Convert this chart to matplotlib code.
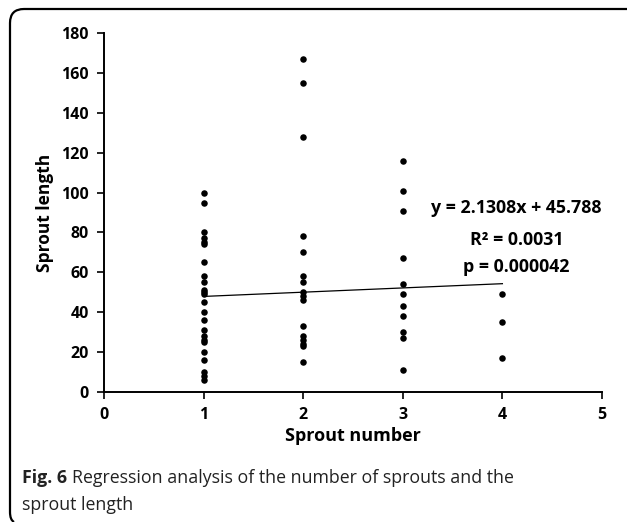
import matplotlib
matplotlib.use("Agg")
import matplotlib.pyplot as plt
from matplotlib.path import Path
from matplotlib.patches import PathPatch

# sprout lengths, grouped by sprout number
len_1 = [100, 95, 80, 77, 75, 74, 65, 58, 55, 51, 50, 49, 45, 40, 36, 31, 28, 26, 25, 20, 16, 10, 8, 6]
len_2 = [167, 155, 128, 78, 70, 58, 55, 50, 48, 46, 33, 28, 26, 24, 23, 15]
len_3 = [116, 101, 91, 67, 54, 49, 43, 38, 30, 27, 11]
len_4 = [49, 35, 17]

slope = 2.1308
intercept = 45.788
fit_x = [1, 4]

x_ticks = [0, 1, 2, 3, 4, 5]
y_ticks = [0, 20, 40, 60, 80, 100, 120, 140, 160, 180]

plt.rcParams['font.family'] = ['Open Sans', 'DejaVu Sans']

fig = plt.figure(figsize=(6.29, 5.22), dpi=100)
ax = fig.add_axes([104/629, 1 - 392/522, (602-104)/629, (392-33)/522])

xs = []
ys = []
for n, vals in zip([1, 2, 3, 4], [len_1, len_2, len_3, len_4]):
    xs += [n] * len(vals)
    ys += vals
ax.scatter(xs, ys, s=22, color='black', zorder=3, linewidths=0)

ax.plot(fit_x, [slope * v + intercept for v in fit_x], color='black', lw=0.9)

ax.set_xlim(0, 5)
ax.set_ylim(0, 180)
ax.set_xticks(x_ticks)
ax.set_yticks(y_ticks)
for s in ['top', 'right']:
    ax.spines[s].set_visible(False)
for s in ['left', 'bottom']:
    ax.spines[s].set_linewidth(1.4)
ax.tick_params(direction='out', length=5, width=1.2, labelsize=11.5, pad=6)
for lab in ax.get_xticklabels() + ax.get_yticklabels():
    lab.set_fontweight('bold')

ax.set_xlabel('Sprout number', fontsize=13, fontweight='bold', labelpad=3)
ax.set_ylabel('Sprout length', fontsize=12.5, fontweight='bold', labelpad=5)

ax.text(4.14, 92.5, 'y = 2.1308x + 45.788', ha='center', va='center', fontsize=12.8, fontweight='bold')
ax.text(4.14, 76.3, 'R² = 0.0031', ha='center', va='center', fontsize=12.8, fontweight='bold')
ax.text(4.14, 62.8, 'p = 0.000042', ha='center', va='center', fontsize=12.8, fontweight='bold')

# frame of the figure panel (top and left edges, rounded corner)
W, H = 629.0, 522.0
verts = [(627/W, 1 - 9/H), (24/W, 1 - 9/H), (10/W, 1 - 9/H), (10/W, 1 - 23/H),
         (10/W, 1 - 512/H), (10/W, 1 - 520/H), (14/W, 1 - 522/H)]
codes = [Path.MOVETO, Path.LINETO, Path.CURVE3, Path.CURVE3, Path.LINETO, Path.CURVE3, Path.CURVE3]
fig.add_artist(PathPatch(Path(verts, codes), transform=fig.transFigure, fill=False,
                         edgecolor='black', lw=1.6))

# caption
cap_size = 12.8
t1 = fig.text(22/W, 1 - 478/H, 'Fig. 6', fontsize=cap_size, fontweight='bold',
              color='#222222', va='center')
fig.canvas.draw()
bb = t1.get_window_extent()
fig.text((bb.x1 + 5)/W, 1 - 478/H, 'Regression analysis of the number of sprouts and the',
         fontsize=cap_size, color='#222222', va='center')
fig.text(22/W, 1 - 505/H, 'sprout length', fontsize=cap_size, color='#222222', va='center')

fig.savefig('out.png', dpi=100)
